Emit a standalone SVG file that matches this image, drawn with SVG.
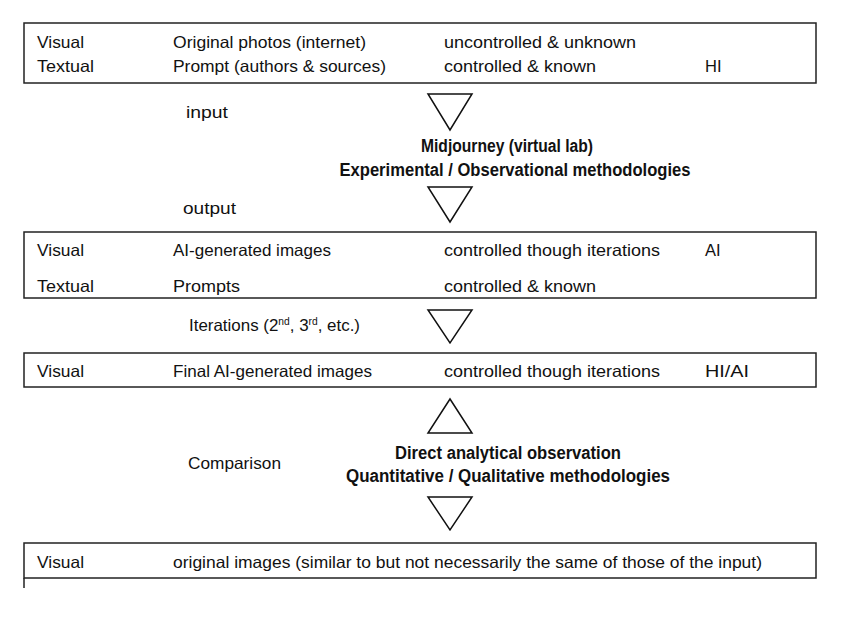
<svg xmlns="http://www.w3.org/2000/svg" width="847" height="625" viewBox="0 0 847 625">
<style>
.box{fill:#fff;stroke:#222;stroke-width:1.5}
.tri{fill:#fff;stroke:#111;stroke-width:1.5;stroke-linejoin:miter}
text{font-family:"Liberation Sans",Arial,sans-serif;font-size:16.5px;fill:#111}
.b{font-weight:bold;text-anchor:middle;font-size:17.5px}
</style>
<rect width="847" height="625" fill="#fff"/>
<g id="connectors">
<polygon class="tri" points="428,94 472,94 450,130"/>
<polygon class="tri" points="428,187 472,187 450,222"/>
<polygon class="tri" points="428,310 472,310 450,343"/>
<polygon class="tri" points="450,399 428,433 472,433"/>
<polygon class="tri" points="428,497 472,497 450,530"/>
<text x="186" y="118" textLength="42" lengthAdjust="spacingAndGlyphs">input</text>
<text x="183" y="214" textLength="53" lengthAdjust="spacingAndGlyphs">output</text>
<text x="189" y="331" textLength="171" lengthAdjust="spacingAndGlyphs">Iterations (2<tspan font-size="10" dy="-6">nd</tspan><tspan dy="6">, 3</tspan><tspan font-size="10" dy="-6">rd</tspan><tspan dy="6">, etc.)</tspan></text>
<text x="188" y="469" textLength="93" lengthAdjust="spacingAndGlyphs">Comparison</text>
</g>
<g id="lab">
<text class="b" x="507" y="152" textLength="172" lengthAdjust="spacingAndGlyphs">Midjourney (virtual lab)</text>
<text class="b" x="515" y="176" textLength="351" lengthAdjust="spacingAndGlyphs">Experimental / Observational methodologies</text>
</g>
<g id="observation">
<text class="b" x="508" y="459" textLength="226" lengthAdjust="spacingAndGlyphs">Direct analytical observation</text>
<text class="b" x="508" y="482" textLength="324" lengthAdjust="spacingAndGlyphs">Quantitative / Qualitative methodologies</text>
</g>
<g id="input-box">
<rect class="box" x="24" y="23" width="792" height="60"/>
<text x="37" y="48" textLength="47" lengthAdjust="spacingAndGlyphs">Visual</text>
<text x="173" y="48" textLength="193" lengthAdjust="spacingAndGlyphs">Original photos (internet)</text>
<text x="444" y="48" textLength="192" lengthAdjust="spacingAndGlyphs">uncontrolled &amp; unknown</text>
<text x="37" y="72" textLength="57" lengthAdjust="spacingAndGlyphs">Textual</text>
<text x="173" y="72" textLength="213" lengthAdjust="spacingAndGlyphs">Prompt (authors &amp; sources)</text>
<text x="444" y="72" textLength="152" lengthAdjust="spacingAndGlyphs">controlled &amp; known</text>
<text x="705" y="72">HI</text>
</g>
<g id="output-box">
<rect class="box" x="24" y="232" width="792" height="66"/>
<text x="37" y="256" textLength="47" lengthAdjust="spacingAndGlyphs">Visual</text>
<text x="173" y="256" textLength="158" lengthAdjust="spacingAndGlyphs">AI-generated images</text>
<text x="444" y="256" textLength="216" lengthAdjust="spacingAndGlyphs">controlled though iterations</text>
<text x="705" y="256">AI</text>
<text x="37" y="292" textLength="57" lengthAdjust="spacingAndGlyphs">Textual</text>
<text x="173" y="292" textLength="67" lengthAdjust="spacingAndGlyphs">Prompts</text>
<text x="444" y="292" textLength="152" lengthAdjust="spacingAndGlyphs">controlled &amp; known</text>
</g>
<g id="final-box">
<rect class="box" x="24" y="353" width="792" height="34"/>
<text x="37" y="377" textLength="47" lengthAdjust="spacingAndGlyphs">Visual</text>
<text x="173" y="377" textLength="199" lengthAdjust="spacingAndGlyphs">Final AI-generated images</text>
<text x="444" y="377" textLength="216" lengthAdjust="spacingAndGlyphs">controlled though iterations</text>
<text x="705" y="377" textLength="44" lengthAdjust="spacingAndGlyphs">HI/AI</text>
</g>
<g id="original-box">
<rect class="box" x="24" y="543" width="792" height="35"/>
<line x1="24" y1="578" x2="24" y2="588" stroke="#222" stroke-width="1.5"/>
<text x="37" y="568" textLength="47" lengthAdjust="spacingAndGlyphs">Visual</text>
<text x="173" y="568" textLength="589" lengthAdjust="spacingAndGlyphs">original images (similar to but not necessarily the same of those of the input)</text>
</g>
</svg>
